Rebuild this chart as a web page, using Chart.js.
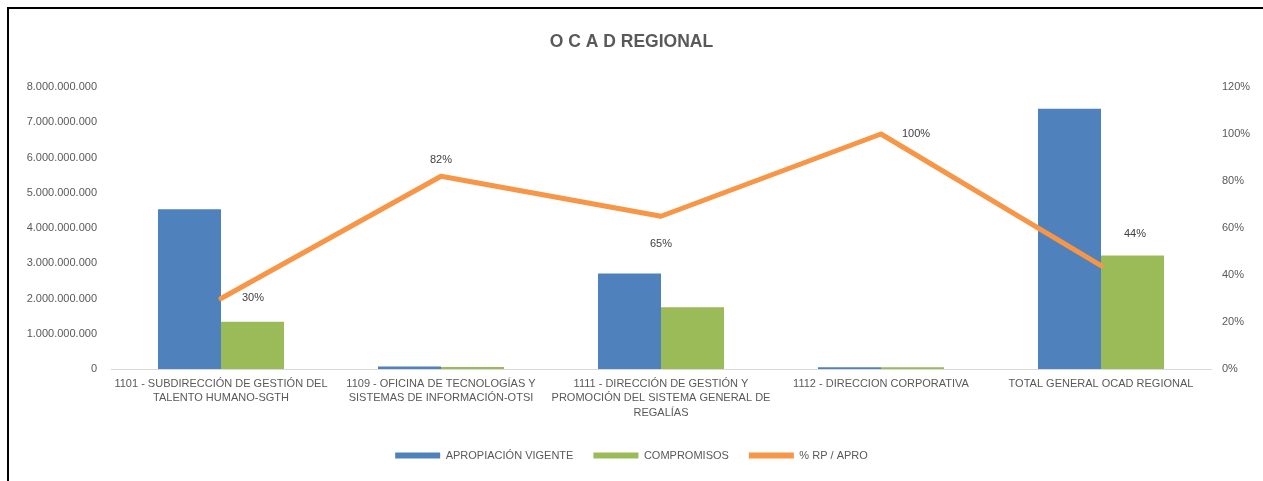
<!DOCTYPE html>
<html>
<head>
<meta charset="utf-8">
<script src="https://cdn.jsdelivr.net/npm/chart.js@4.4.1/dist/chart.umd.min.js"></script>
<style>
  html, body { margin: 0; padding: 0; background: #fff; overflow: hidden; }
  #wrap { position: relative; width: 1263px; height: 481px; }
  #frame { position: absolute; left: 7px; top: 7px; width: 1300px; height: 520px;
           border-left: 2px solid #000; border-top: 2px solid #000; pointer-events: none; }
</style>
</head>
<body>
<div id="wrap">
  <canvas id="chart" width="1263" height="481"></canvas>
  <div id="frame"></div>
</div>
<script>
const categories = [
  ['1101 - SUBDIRECCIÓN DE GESTIÓN DEL', 'TALENTO HUMANO-SGTH'],
  ['1109 - OFICINA DE TECNOLOGÍAS Y', 'SISTEMAS DE INFORMACIÓN-OTSI'],
  ['1111 - DIRECCIÓN DE GESTIÓN Y', 'PROMOCIÓN DEL SISTEMA GENERAL DE', 'REGALÍAS'],
  ['1112 - DIRECCION CORPORATIVA'],
  ['TOTAL GENERAL OCAD REGIONAL']
];
const apropiacion = [4530000000, 70000000, 2710000000, 50000000, 7380000000];
const compromisos = [1340000000, 55000000, 1750000000, 48000000, 3220000000];
const rpApro = [30, 82, 65, 100, 44];

const leftTicks = { min: 0, max: 8000000000, step: 1000000000 };
const rightTicks = { min: 0, max: 120, step: 20 };

const FONT = "'Liberation Sans', Arial, sans-serif";
const GREY = '#595959';

const fmtThousands = (v) => String(v).replace(/\B(?=(\d{3})+(?!\d))/g, '.');

// label offsets from each line point (Excel-style manual placement)
const labelOffsets = [[32, -1], [0, -16], [0, 28], [35, 0], [34, -32]];

const pctLabels = {
  id: 'pctLabels',
  afterDatasetsDraw(chart) {
    const meta = chart.getDatasetMeta(2);
    const ctx = chart.ctx;
    ctx.save();
    ctx.font = '11px ' + FONT;
    ctx.fillStyle = '#404040';
    ctx.textAlign = 'center';
    ctx.textBaseline = 'middle';
    meta.data.forEach((pt, i) => {
      const [dx, dy] = labelOffsets[i];
      ctx.fillText(rpApro[i] + '%', pt.x + dx, pt.y + dy);
    });
    ctx.restore();
  }
};

Chart.defaults.font.family = FONT;
Chart.defaults.font.size = 11;
Chart.defaults.color = GREY;

new Chart(document.getElementById('chart'), {
  type: 'bar',
  data: {
    labels: categories,
    datasets: [
      {
        label: 'APROPIACIÓN VIGENTE',
        data: apropiacion,
        backgroundColor: '#4F81BD',
        yAxisID: 'y',
        order: 1,
        barPercentage: 1,
        categoryPercentage: 0.573
      },
      {
        label: 'COMPROMISOS',
        data: compromisos,
        backgroundColor: '#9BBB59',
        yAxisID: 'y',
        order: 1,
        barPercentage: 1,
        categoryPercentage: 0.573
      },
      {
        type: 'line',
        label: '% RP / APRO',
        data: rpApro,
        borderColor: '#F79646',
        backgroundColor: '#F79646',
        borderWidth: 5,
        borderCapStyle: 'round',
        borderJoinStyle: 'round',
        pointRadius: 0,
        tension: 0,
        yAxisID: 'y1',
        order: 0
      }
    ]
  },
  options: {
    responsive: false,
    animation: false,
    layout: { padding: { left: 0, right: 0, top: 0, bottom: 10 } },
    plugins: {
      title: {
        display: true,
        text: 'O C A D REGIONAL',
        color: GREY,
        font: { size: 17.5, weight: 'bold' },
        padding: { top: 32, bottom: 34 }
      },
      legend: {
        position: 'bottom',
        labels: {
          boxWidth: 45,
          boxHeight: 6,
          padding: 20,
          color: GREY,
          font: { size: 11 },
          sort: (a, b) => a.datasetIndex - b.datasetIndex,
          generateLabels(chart) {
            const items = Chart.defaults.plugins.legend.labels.generateLabels(chart);
            items.forEach((it) => { it.lineWidth = 0; });
            return items;
          }
        }
      },
      tooltip: { enabled: false }
    },
    scales: {
      x: {
        grid: { display: false, drawTicks: false },
        border: { display: true, color: '#d9d9d9', width: 1 },
        ticks: { padding: 7, color: GREY, maxRotation: 0, autoSkip: false, font: { size: 11, lineHeight: 1.36 } },
        afterFit(scale) { scale.height = 61; }
      },
      y: {
        position: 'left',
        min: leftTicks.min,
        max: leftTicks.max,
        grid: { display: false, drawTicks: false },
        border: { display: false },
        ticks: { stepSize: leftTicks.step, padding: 14, color: GREY, callback: (v) => fmtThousands(v) },
        afterFit(scale) { scale.width = 111; }
      },
      y1: {
        position: 'right',
        min: rightTicks.min,
        max: rightTicks.max,
        grid: { display: false, drawTicks: false },
        border: { display: false },
        ticks: { stepSize: rightTicks.step, padding: 11, color: GREY, callback: (v) => v + '%' },
        afterFit(scale) { scale.width = 52; }
      }
    }
  },
  plugins: [pctLabels]
});
</script>
</body>
</html>
